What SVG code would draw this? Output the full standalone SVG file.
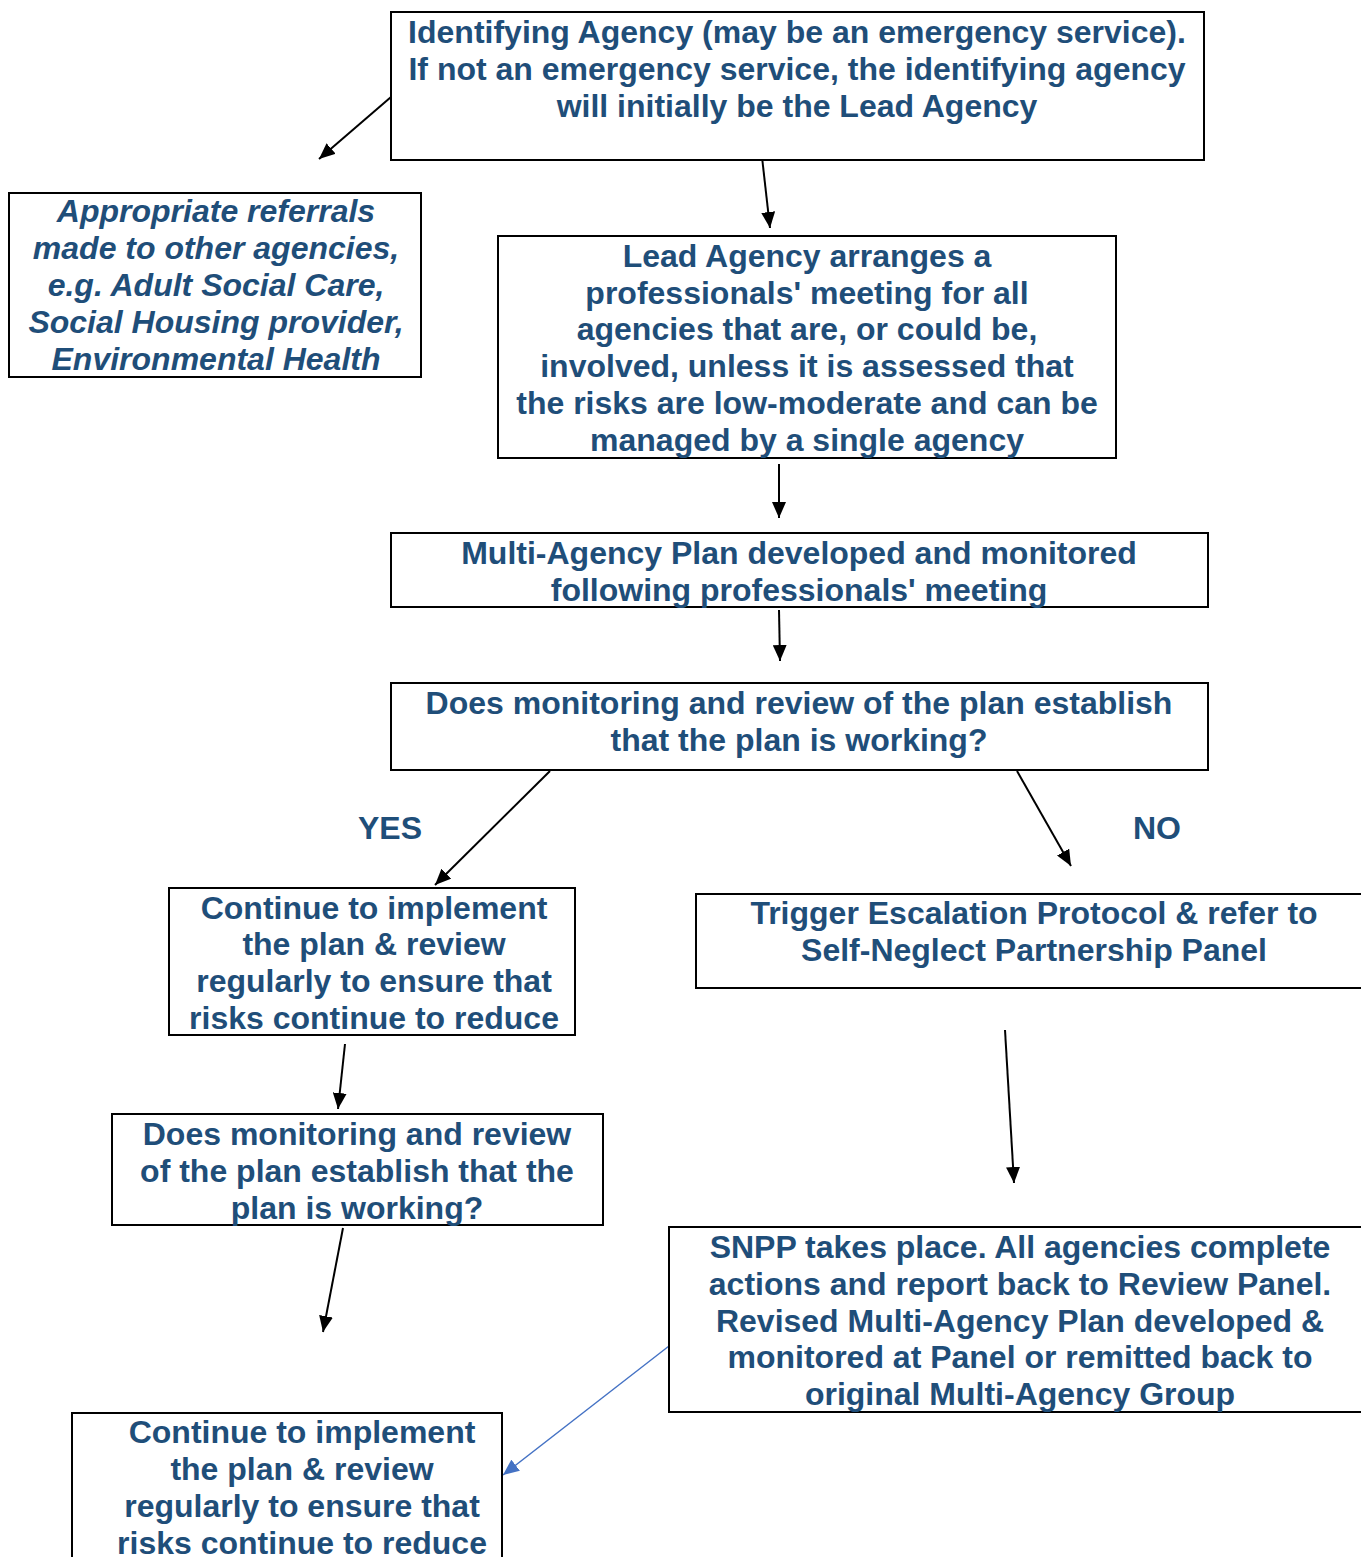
<svg xmlns="http://www.w3.org/2000/svg" width="1361" height="1557" viewBox="0 0 1361 1557">
<style>
.box{fill:#fff;stroke:#000;stroke-width:2}
.t{font-family:"Liberation Sans",Arial,sans-serif;font-weight:bold;font-size:32px;fill:#1F4E79;text-anchor:middle}
.it{font-style:italic}
.c{stroke:#000;stroke-width:2;fill:none;marker-end:url(#ah)}
.cb{stroke:#4472C4;stroke-width:1.4;fill:none;marker-end:url(#ahb)}
</style>
<defs>
<marker id="ah" markerUnits="userSpaceOnUse" markerWidth="18" markerHeight="14" refX="16" refY="7" orient="auto"><path d="M0,0 L16,7 L0,14 z" fill="#000"/></marker>
<marker id="ahb" markerUnits="userSpaceOnUse" markerWidth="18" markerHeight="14" refX="16" refY="7" orient="auto"><path d="M0,0 L16,7 L0,14 z" fill="#4472C4"/></marker>
</defs>
<rect width="1361" height="1557" fill="#fff"/>
<g id="connectors">
<line class="c" x1="391" y1="97" x2="319" y2="159"/>
<line class="c" x1="762" y1="157" x2="770" y2="228"/>
<line class="c" x1="779" y1="464" x2="779" y2="518"/>
<line class="c" x1="779" y1="610" x2="780" y2="661"/>
<line class="c" x1="550" y1="771" x2="435" y2="885"/>
<line class="c" x1="1017" y1="771" x2="1071" y2="866"/>
<line class="c" x1="345" y1="1044" x2="338" y2="1109"/>
<line class="c" x1="343" y1="1228" x2="323" y2="1332"/>
<line class="c" x1="1005" y1="1030" x2="1014" y2="1183"/>
<line class="cb" x1="669" y1="1346" x2="503" y2="1475"/>
</g>
<g id="n1">
<rect class="box" x="391" y="12" width="813" height="148"/>
<text class="t"><tspan x="797" y="43">Identifying Agency (may be an emergency service).</tspan><tspan x="797" y="80">If not an emergency service, the identifying agency</tspan><tspan x="797" y="117">will initially be the Lead Agency</tspan></text>
</g>
<g id="n2">
<rect class="box" x="9" y="193" width="412" height="184"/>
<text class="t it"><tspan x="216" y="222">Appropriate referrals</tspan><tspan x="216" y="259">made to other agencies,</tspan><tspan x="216" y="296">e.g. Adult Social Care,</tspan><tspan x="216" y="333">Social Housing provider,</tspan><tspan x="216" y="370">Environmental Health</tspan></text>
</g>
<g id="n3">
<rect class="box" x="498" y="236" width="618" height="222"/>
<text class="t"><tspan x="807" y="267">Lead Agency arranges a</tspan><tspan x="807" y="304">professionals' meeting for all</tspan><tspan x="807" y="340">agencies that are, or could be,</tspan><tspan x="807" y="377">involved, unless it is assessed that</tspan><tspan x="807" y="414">the risks are low-moderate and can be</tspan><tspan x="807" y="451">managed by a single agency</tspan></text>
</g>
<g id="n4">
<rect class="box" x="391" y="533" width="817" height="74"/>
<text class="t"><tspan x="799" y="564">Multi-Agency Plan developed and monitored</tspan><tspan x="799" y="601">following professionals' meeting</tspan></text>
</g>
<g id="n5">
<rect class="box" x="391" y="683" width="817" height="87"/>
<text class="t"><tspan x="799" y="714">Does monitoring and review of the plan establish</tspan><tspan x="799" y="751">that the plan is working?</tspan></text>
</g>
<g id="yes"><text class="t" x="390" y="839">YES</text></g>
<g id="no"><text class="t" x="1157" y="839">NO</text></g>
<g id="n6">
<rect class="box" x="169" y="888" width="406" height="147"/>
<text class="t"><tspan x="374" y="919">Continue to implement</tspan><tspan x="374" y="955">the plan &amp; review</tspan><tspan x="374" y="992">regularly to ensure that</tspan><tspan x="374" y="1029">risks continue to reduce</tspan></text>
</g>
<g id="n7">
<rect class="box" x="696" y="894" width="670" height="94"/>
<text class="t"><tspan x="1034" y="924">Trigger Escalation Protocol &amp; refer to</tspan><tspan x="1034" y="961">Self-Neglect Partnership Panel</tspan></text>
</g>
<g id="n8">
<rect class="box" x="112" y="1114" width="491" height="111"/>
<text class="t"><tspan x="357" y="1145">Does monitoring and review</tspan><tspan x="357" y="1182">of the plan establish that the</tspan><tspan x="357" y="1219">plan is working?</tspan></text>
</g>
<g id="n9">
<rect class="box" x="669" y="1227" width="697" height="185"/>
<text class="t"><tspan x="1020" y="1258">SNPP takes place. All agencies complete</tspan><tspan x="1020" y="1295">actions and report back to Review Panel.</tspan><tspan x="1020" y="1332">Revised Multi-Agency Plan developed &amp;</tspan><tspan x="1020" y="1368">monitored at Panel or remitted back to</tspan><tspan x="1020" y="1405">original Multi-Agency Group</tspan></text>
</g>
<g id="n10">
<rect class="box" x="72" y="1413" width="430" height="150"/>
<text class="t"><tspan x="302" y="1443">Continue to implement</tspan><tspan x="302" y="1480">the plan &amp; review</tspan><tspan x="302" y="1517">regularly to ensure that</tspan><tspan x="302" y="1554">risks continue to reduce</tspan></text>
</g>
</svg>
